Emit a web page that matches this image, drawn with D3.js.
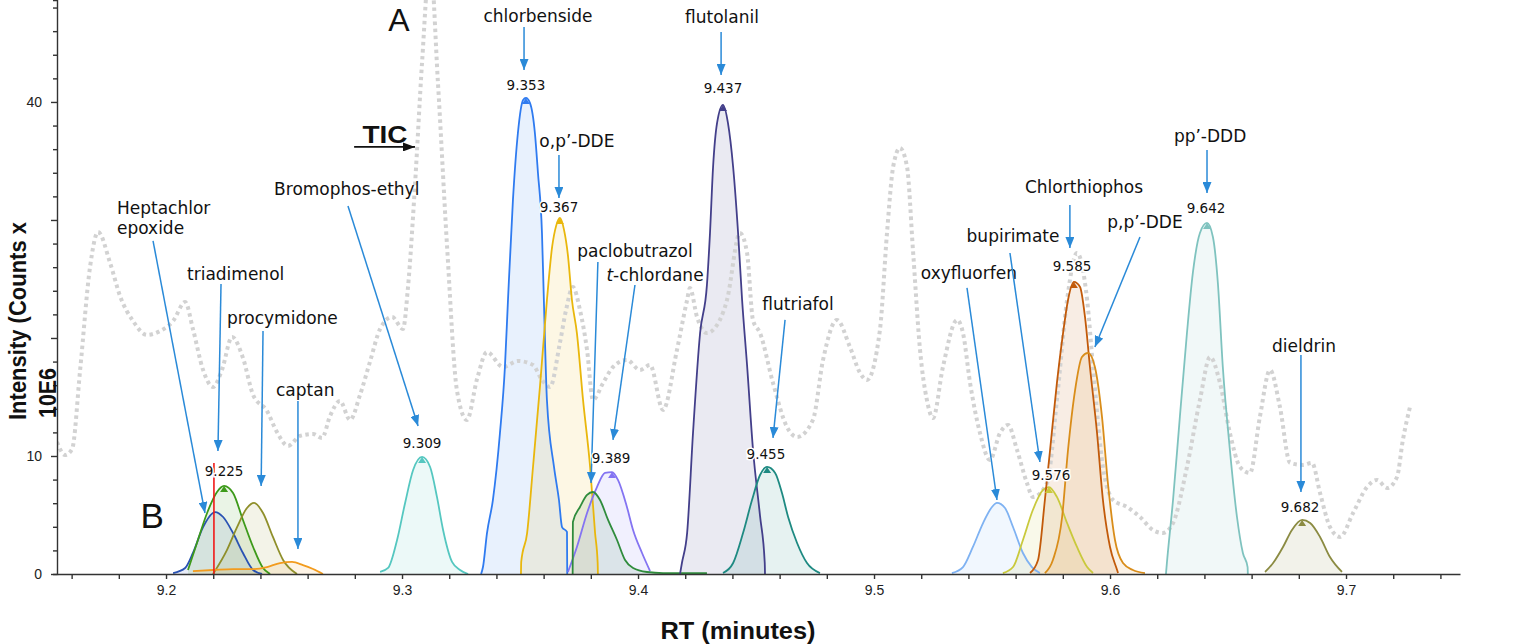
<!DOCTYPE html>
<html>
<head>
<meta charset="utf-8">
<script src="https://cdn.jsdelivr.net/npm/d3@7"></script>
<style>
  body { margin: 0; background: #fff; }
  svg { display: block; }
  .axis path, .axis line { stroke: #333; stroke-width: 1.4; }
  .axis text { font-family: "Liberation Sans", Arial, sans-serif; font-size: 14px; fill: #222; }
  .tic { fill: none; stroke: #d2d2d2; stroke-width: 4; stroke-dasharray: 3.5 3.5; }
  .peak-line { fill: none; stroke-width: 1.8; }
  .name { font-family: "DejaVu Sans", sans-serif; font-size: 17px; fill: #111; }
  .val { font-family: "DejaVu Sans", sans-serif; font-size: 13.5px; fill: #111;
         stroke: #fff; stroke-width: 3; paint-order: stroke; text-anchor: middle; }
  .title { font-family: "Liberation Sans", Arial, sans-serif; font-weight: bold; fill: #111; }
  .arrow { stroke: #2a8ad8; stroke-width: 1.5; }
</style>
</head>
<body>
<svg id="chart" width="1515" height="644"></svg>
<script>
// total ion chromatogram (dotted grey trace), [RT, intensity]
var tic = [
  [9.1538,11.19],[9.1572,10.08],[9.1602,10.59],[9.1636,17.29],[9.1678,26.02],[9.1712,28.98],
  [9.1763,26.36],[9.1805,23.56],[9.1860,21.44],[9.1919,20.26],[9.1975,20.59],[9.2030,21.44],
  [9.2081,23.05],[9.2114,20.76],[9.2157,17.29],[9.2199,15.85],[9.2237,17.29],[9.2280,20.09],
  [9.2326,18.31],[9.2369,15.17],[9.2428,13.81],[9.2470,12.03],[9.2517,10.85],[9.2568,11.70],
  [9.2623,11.86],[9.2661,11.53],[9.2695,13.39],[9.2737,14.66],[9.2780,13.05],[9.2822,15.17],
  [9.2864,17.97],[9.2907,20.76],[9.2958,21.78],[9.3004,20.76],[9.3025,24.24],[9.3055,32.97],
  [9.3085,43.39],[9.3119,52.00],[9.3152,41.70],[9.3191,27.71],[9.3233,15.51],[9.3275,13.05],
  [9.3318,16.53],[9.3360,18.81],[9.3428,17.54],[9.3491,18.05],[9.3555,17.71],[9.3593,16.44],
  [9.3627,15.85],[9.3669,19.58],[9.3695,22.37],[9.3724,24.32],[9.3754,22.37],[9.3784,18.98],
  [9.3809,14.75],[9.3852,16.19],[9.3894,17.54],[9.3953,18.14],[9.4008,17.29],[9.4051,17.71],
  [9.4106,13.90],[9.4165,18.98],[9.4208,23.22],[9.4220,24.24],[9.4250,21.78],[9.4292,20.42],
  [9.4318,20.68],[9.4377,23.22],[9.4432,28.90],[9.4462,27.20],[9.4487,21.53],[9.4517,20.42],
  [9.4572,16.19],[9.4631,12.46],[9.4674,11.61],[9.4741,13.05],[9.4784,18.14],[9.4843,21.53],
  [9.4898,19.24],[9.4941,17.03],[9.4970,16.44],[9.5025,20.68],[9.5055,28.90],[9.5081,34.49],
  [9.5110,36.10],[9.5140,34.49],[9.5165,27.46],[9.5195,18.98],[9.5224,14.75],[9.5250,13.22],
  [9.5292,17.54],[9.5352,21.53],[9.5377,20.42],[9.5407,16.19],[9.5449,11.95],[9.5491,9.66],
  [9.5534,11.95],[9.5568,12.63],[9.5606,10.51],[9.5648,7.71],[9.5673,6.53],[9.5733,7.71],
  [9.5775,14.75],[9.5818,23.22],[9.5860,27.20],[9.5903,23.22],[9.5928,17.54],[9.5970,9.07],
  [9.6013,6.27],[9.6072,5.68],[9.6127,4.83],[9.6182,3.73],[9.6224,3.47],[9.6267,4.32],
  [9.6326,9.07],[9.6381,14.75],[9.6424,18.39],[9.6466,16.19],[9.6508,11.95],[9.6551,9.07],
  [9.6593,8.56],[9.6635,13.31],[9.6678,17.29],[9.6720,14.15],[9.6763,9.41],[9.6818,9.24],
  [9.6856,9.41],[9.6890,6.86],[9.6932,3.98],[9.6975,3.14],[9.7030,5.17],[9.7089,7.37],
  [9.7131,7.97],[9.7174,7.29],[9.7216,8.22],[9.7241,11.36],[9.7271,14.15]
];

// extracted ion peaks, [RT, intensity]
var heptachlorEpoxide = [[9.2030,0.08],[9.2081,0.51],[9.2114,1.78],[9.2157,3.98],[9.2208,5.25],[9.2242,4.83],[9.2284,3.47],[9.2326,1.78],[9.2369,0.34],[9.2407,0]];
var triadimenol = [[9.2093,0.34],[9.2131,2.63],[9.2174,5.17],[9.2216,6.95],[9.2246,7.46],[9.2284,6.86],[9.2326,4.58],[9.2369,2.29],[9.2411,0.51],[9.2441,0]];
var procymidone = [[9.2199,0],[9.2258,2.03],[9.2301,3.98],[9.2343,5.59],[9.2373,6.02],[9.2411,5.17],[9.2453,3.14],[9.2496,1.19],[9.2555,0]];
var captan = [[9.2114,0.25],[9.2199,0.34],[9.2284,0.42],[9.2369,0.42],[9.2428,0.59],[9.2483,0.93],[9.2534,1.02],[9.2580,0.76],[9.2623,0.42],[9.2665,0]];
var bromophosEthyl = [[9.2907,0.17],[9.2941,0.51],[9.2979,2.88],[9.3013,6.02],[9.3047,8.81],[9.3085,9.92],[9.3119,9.07],[9.3148,6.53],[9.3174,3.73],[9.3212,1.02],[9.3246,0.34],[9.3280,0]];
var chlorbenside = [[9.3335,0],[9.3343,0.59],[9.3360,3.47],[9.3385,6.27],[9.3415,11.95],[9.3436,17.54],[9.3449,23.22],[9.3470,31.70],[9.3491,37.37],[9.3513,40.17],[9.3525,40.34],[9.3542,39.92],[9.3563,37.37],[9.3576,33.98],[9.3593,28.90],[9.3601,23.22],[9.3614,14.75],[9.3644,9.07],[9.3665,6.27],[9.3678,3.98],[9.3699,3.56],[9.3700,0]];
var opDDE = [[9.3504,0],[9.3505,1.02],[9.3530,3.47],[9.3555,9.07],[9.3585,16.0],[9.3614,23.22],[9.3636,27.71],[9.3653,29.5],[9.3669,30.17],[9.3686,29.2],[9.3703,27.0],[9.3720,23.22],[9.3741,20.42],[9.3767,14.75],[9.3797,9.07],[9.3818,3.47],[9.3829,0.93],[9.3830,0]];
var paclobutrazol = [[9.3723,0],[9.3724,4.41],[9.3754,5.68],[9.3784,6.70],[9.3809,6.95],[9.3839,6.27],[9.3873,4.58],[9.3911,2.88],[9.3945,1.19],[9.3979,0.51],[9.4038,0.17],[9.4106,0.08],[9.4292,0.08]];
var tChlordane = [[9.3703,0.17],[9.3741,2.29],[9.3784,5.17],[9.3826,7.37],[9.3860,8.56],[9.3890,8.64],[9.3915,7.97],[9.3953,5.68],[9.3979,3.73],[9.4017,1.78],[9.4051,0.25]];
var flutolanil = [[9.4178,0],[9.4186,0.93],[9.4208,3.47],[9.4233,11.95],[9.4263,20.42],[9.4292,24.5],[9.4305,28.90],[9.4318,34.49],[9.4335,38.22],[9.4360,39.75],[9.4381,38.22],[9.4403,34.49],[9.4424,28.90],[9.4441,23.22],[9.4462,17.71],[9.4487,10.59],[9.4517,4.92],[9.4537,0.93],[9.4538,0]];
var flutriafol = [[9.4360,0.08],[9.4403,0.93],[9.4445,3.47],[9.4483,6.27],[9.4517,8.39],[9.4547,9.07],[9.4581,8.56],[9.4610,6.86],[9.4636,4.83],[9.4674,2.63],[9.4716,0.93],[9.4771,0.08]];
var oxyfluorfen = [[9.5330,0.08],[9.5377,0.59],[9.5419,2.29],[9.5462,4.32],[9.5500,5.68],[9.5521,6.02],[9.5555,5.59],[9.5589,3.98],[9.5631,1.78],[9.5669,0.59],[9.5703,0.08]];
var bupirimate = [[9.5546,0.08],[9.5589,0.59],[9.5631,2.88],[9.5673,5.42],[9.5716,7.12],[9.5741,7.37],[9.5775,6.53],[9.5818,4.32],[9.5860,2.29],[9.5903,0.59],[9.5928,0.08]];
var chlorthiophos = [[9.5661,0.08],[9.5695,1.19],[9.5724,6.27],[9.5746,10.51],[9.5775,16.19],[9.5801,20.42],[9.5822,23.22],[9.5847,24.75],[9.5873,24.32],[9.5894,21.78],[9.5915,17.54],[9.5945,11.95],[9.5970,6.27],[9.6000,2.29],[9.6030,0.34],[9.6034,0.08]];
var ppDDE = [[9.5724,0.08],[9.5758,1.19],[9.5797,4.83],[9.5822,10.51],[9.5852,15.59],[9.5881,18.39],[9.5907,18.73],[9.5936,17.54],[9.5966,13.31],[9.5991,7.71],[9.6021,2.88],[9.6055,0.93],[9.6097,0.34],[9.6148,0.08]];
var ppDDD = [[9.6237,0],[9.6241,0.93],[9.6267,6.27],[9.6296,13.31],[9.6326,20.42],[9.6351,25.51],[9.6381,28.90],[9.6411,29.75],[9.6436,28.56],[9.6457,24.66],[9.6478,17.54],[9.6508,10.51],[9.6538,4.83],[9.6563,1.78],[9.6583,0.59],[9.6584,0]];
var dieldrin = [[9.6657,0.17],[9.6691,0.93],[9.6733,2.29],[9.6771,3.73],[9.6814,4.58],[9.6848,4.32],[9.6890,3.14],[9.6932,1.44],[9.6983,0.17]];

// compound annotations: text anchor (RT, intensity), arrow from -> to
var annotations = [
  {text: ["Heptachlor", "epoxide"], rt: 9.1792, at: 30.51, anchor: "start", a: [9.1945, 28.22, 9.2165, 5.17]},
  {text: ["triadimenol"], rt: 9.2089, at: 24.92, anchor: "start", a: [9.2233, 24.58, 9.2220, 10.42]},
  {text: ["procymidone"], rt: 9.2258, at: 21.19, anchor: "start", a: [9.2411, 20.59, 9.2403, 7.46]},
  {text: ["captan"], rt: 9.2466, at: 15.09, anchor: "start", a: [9.2559, 14.66, 9.2559, 2.12]},
  {text: ["Bromophos-ethyl"], rt: 9.2458, at: 32.12, anchor: "start", a: [9.2771, 31.19, 9.3068, 12.54]},
  {text: ["chlorbenside"], rt: 9.3576, at: 46.78, anchor: "middle", a: [9.3517, 46.36, 9.3517, 42.71]},
  {text: ["flutolanil"], rt: 9.4356, at: 46.70, anchor: "middle", a: [9.4352, 45.93, 9.4352, 42.29]},
  {text: ["o,p\u2019-DDE"], rt: 9.3741, at: 36.19, anchor: "middle", a: [9.3665, 35.51, 9.3665, 31.87]},
  {text: ["paclobutrazol"], rt: 9.3987, at: 26.87, anchor: "middle", a: [9.3830, 26.44, 9.3801, 7.71]},
  {text: ["t-chlordane"], rt: 9.4072, at: 24.83, anchor: "middle", a: [9.3987, 24.49, 9.3894, 11.36]},
  {text: ["flutriafol"], rt: 9.4678, at: 22.37, anchor: "middle", a: [9.4623, 21.53, 9.4572, 11.53]},
  {text: ["oxyfluorfen"], rt: 9.5402, at: 25.00, anchor: "middle", a: [9.5394, 24.24, 9.5521, 6.27]},
  {text: ["bupirimate"], rt: 9.5589, at: 28.14, anchor: "middle", a: [9.5576, 27.20, 9.5703, 9.49]},
  {text: ["Chlorthiophos"], rt: 9.5890, at: 32.29, anchor: "middle", a: [9.5830, 31.27, 9.5830, 27.63]},
  {text: ["p,p\u2019-DDE"], rt: 9.6148, at: 29.32, anchor: "middle", a: [9.6127, 28.56, 9.5936, 19.24]},
  {text: ["pp\u2019-DDD"], rt: 9.6424, at: 36.61, anchor: "middle", a: [9.6411, 35.93, 9.6411, 32.29]},
  {text: ["dieldrin"], rt: 9.6822, at: 18.81, anchor: "middle", a: [9.6809, 18.56, 9.6809, 6.95]}
];

// retention time labels above peaks
var rtLabels = ["9.225", "9.309", "9.353", "9.367", "9.389", "9.437", "9.455", "9.576", "9.585", "9.642", "9.682"];
var rtLabelRT = [9.2246, 9.3085, 9.3525, 9.3665, 9.3886, 9.4360, 9.4542, 9.5750, 9.5839, 9.6407, 9.6805];
var rtLabelInt = [8.31, 10.68, 41.02, 30.68, 9.41, 40.76, 9.75, 7.97, 25.68, 30.59, 5.25];

var xTicks = d3.range(0, 30).map(function(i) { return 9.16 + i * 0.02; });
var yTicks = d3.range(0, 49, 2);
var yLabelled = [0, 10, 40];
var markerRT = 9.2203, markerTop = 9.4;

var peaks = [
  {data: heptachlorEpoxide, color: "#2952b3"},
  {data: triadimenol, color: "#3d9a1a", apex: true},
  {data: procymidone, color: "#8f8f2a"},
  {data: captan, color: "#f29b1d"},
  {data: bromophosEthyl, color: "#55c7c0", apex: true},
  {data: chlorbenside, color: "#2f7bf0", apex: true},
  {data: opDDE, color: "#e9b70c", apex: true},
  {data: tChlordane, color: "#8474f2", apex: true},
  {data: paclobutrazol, color: "#2f8c3c"},
  {data: flutolanil, color: "#433f8a", apex: true},
  {data: flutriafol, color: "#1e8a82", apex: true},
  {data: oxyfluorfen, color: "#7fb2f2"},
  {data: bupirimate, color: "#c9c93c", apex: true},
  {data: chlorthiophos, color: "#c25a0a", apex: true},
  {data: ppDDE, color: "#d98d1a"},
  {data: ppDDD, color: "#7fc3bf", apex: true},
  {data: dieldrin, color: "#8b8b42", apex: true}
];

var svg = d3.select("#chart");
var plot = {left: 57, right: 1460, top: 0, bottom: 574};

var x = d3.scaleLinear().domain([9.1538, 9.7483]).range([plot.left, plot.right]);
var y = d3.scaleLinear().domain([0, 48.64]).range([plot.bottom, plot.top]);

var defs = svg.append("defs");
defs.append("clipPath").attr("id", "clip")
  .append("rect")
    .attr("x", plot.left).attr("y", plot.top)
    .attr("width", plot.right - plot.left).attr("height", plot.bottom - plot.top);
function marker(id, color, w, h) {
  defs.append("marker")
      .attr("id", id)
      .attr("markerUnits", "userSpaceOnUse")
      .attr("markerWidth", w).attr("markerHeight", h)
      .attr("refX", w).attr("refY", h / 2)
      .attr("orient", "auto")
    .append("path")
      .attr("d", `M0,0 L${w},${h / 2} L0,${h} Z`)
      .attr("fill", color);
}
marker("blue-head", "#2a8ad8", 11, 9);
marker("black-head", "#111", 12, 9);

var area = d3.area()
    .x(function(d) { return x(d[0]); })
    .y0(y(0))
    .y1(function(d) { return y(d[1]); })
    .curve(d3.curveMonotoneX);
var line = d3.line()
    .x(function(d) { return x(d[0]); })
    .y(function(d) { return y(d[1]); })
    .curve(d3.curveMonotoneX);

var chart = svg.append("g").attr("clip-path", "url(#clip)");

// filled peaks
chart.selectAll("path.peak-fill")
    .data(peaks)
    .enter().append("path")
      .attr("class", "peak-fill")
      .attr("d", function(d) { return area(d.data); })
      .attr("fill", function(d) { return d.color; })
      .attr("fill-opacity", 0.11);

// TIC
chart.append("path")
    .attr("class", "tic")
    .attr("d", line(tic));

chart.selectAll("path.peak-line")
    .data(peaks)
    .enter().append("path")
      .attr("class", "peak-line")
      .attr("d", function(d) { return line(d.data); })
      .attr("stroke", function(d) { return d.color; });

// small apex markers
chart.selectAll("path.apex")
    .data(peaks.filter(function(p) { return p.apex; }))
    .enter().append("path")
      .attr("class", "apex")
      .attr("fill", function(d) { return d.color; })
      .attr("d", function(d) {
        var top = d3.greatest(d.data, function(p) { return p[1]; });
        var px = x(top[0]), py = y(top[1]);
        return `M${px},${py} L${px + 4},${py + 6} L${px - 4},${py + 6} Z`;
      });

// red retention-time marker
chart.append("line")
    .attr("x1", x(markerRT)).attr("x2", x(markerRT))
    .attr("y1", y(0)).attr("y2", y(markerTop))
    .attr("stroke", "#f01818").attr("stroke-width", 1.6);

// axes
var xAxis = d3.axisBottom(x)
    .tickValues(xTicks)
    .tickSize(5)
    .tickSizeOuter(0)
    .tickPadding(6)
    .tickFormat(function(d) {
      return Math.abs(d * 10 - Math.round(d * 10)) < 1e-6 ? d3.format(".1f")(d) : "";
    });
svg.append("g")
    .attr("class", "x axis")
    .attr("transform", `translate(0, ${plot.bottom})`)
    .call(xAxis);

var yAxis = d3.axisLeft(y)
    .tickValues(yTicks)
    .tickSizeOuter(0)
    .tickSize(4)
    .tickPadding(11)
    .tickFormat(function(d) { return yLabelled.indexOf(d) >= 0 ? d : ""; });
var yg = svg.append("g")
    .attr("class", "y axis")
    .attr("transform", `translate(${plot.left}, 0)`)
    .call(yAxis);
yg.selectAll(".tick line")
    .attr("x2", function(d) { return d % 10 === 0 ? -6 : -4; });

// axis titles
svg.append("text")
    .attr("class", "title")
    .attr("x", 738).attr("y", 639)
    .attr("text-anchor", "middle")
    .attr("font-size", 23)
    .attr("textLength", 155).attr("lengthAdjust", "spacingAndGlyphs")
    .text("RT (minutes)");
svg.append("text")
    .attr("class", "title")
    .attr("transform", "translate(26, 420) rotate(-90)")
    .attr("font-size", 24)
    .attr("textLength", 198).attr("lengthAdjust", "spacingAndGlyphs")
    .text("Intensity (Counts x");
svg.append("text")
    .attr("class", "title")
    .attr("transform", "translate(56, 418) rotate(-90)")
    .attr("font-size", 24)
    .attr("textLength", 50).attr("lengthAdjust", "spacingAndGlyphs")
    .text("10E6");

// panel letters and TIC pointer
svg.append("text")
    .attr("x", x(9.2987)).attr("y", y(46.0))
    .attr("text-anchor", "middle")
    .attr("font-family", "Liberation Sans, Arial, sans-serif")
    .attr("font-size", 32)
    .attr("fill", "#111")
    .text("A");
svg.append("text")
    .attr("x", x(9.1941)).attr("y", y(3.90))
    .attr("text-anchor", "middle")
    .attr("font-family", "Liberation Sans, Arial, sans-serif")
    .attr("font-size", 35)
    .attr("fill", "#111")
    .text("B");
svg.append("text")
    .attr("class", "title")
    .attr("x", x(9.2928)).attr("y", y(36.53))
    .attr("text-anchor", "middle")
    .attr("font-size", 24)
    .attr("textLength", 45).attr("lengthAdjust", "spacingAndGlyphs")
    .text("TIC");
svg.append("line")
    .attr("x1", x(9.2797)).attr("y1", y(36.19))
    .attr("x2", x(9.3055)).attr("y2", y(36.19))
    .attr("stroke", "#111").attr("stroke-width", 1.6)
    .attr("marker-end", "url(#black-head)");

// compound names and arrows
var ann = svg.selectAll("g.ann")
    .data(annotations)
    .enter().append("g")
      .attr("class", "ann");
ann.append("line")
    .attr("class", "arrow")
    .attr("x1", function(d) { return x(d.a[0]); })
    .attr("y1", function(d) { return y(d.a[1]); })
    .attr("x2", function(d) { return x(d.a[2]); })
    .attr("y2", function(d) { return y(d.a[3]); })
    .attr("marker-end", "url(#blue-head)");
var names = ann.append("text")
    .attr("class", "name")
    .attr("text-anchor", function(d) { return d.anchor; })
    .attr("x", function(d) { return x(d.rt); })
    .attr("y", function(d) { return y(d.at); });
names.each(function(d) {
  var t = d3.select(this);
  d.text.forEach(function(s, i) {
    var ts = t.append("tspan")
        .attr("x", x(d.rt))
        .attr("dy", i === 0 ? 0 : 20);
    if (s === "t-chlordane") {
      ts.append("tspan").attr("font-style", "italic").text("t");
      ts.append("tspan").text("-chlordane");
    } else {
      ts.text(s);
    }
  });
});

// retention time labels
svg.selectAll("text.val")
    .data(rtLabels)
    .enter().append("text")
      .attr("class", "val")
      .attr("x", function(d, i) { return x(rtLabelRT[i]); })
      .attr("y", function(d, i) { return y(rtLabelInt[i]); })
      .text(function(d) { return d; });
</script>
</body>
</html>
